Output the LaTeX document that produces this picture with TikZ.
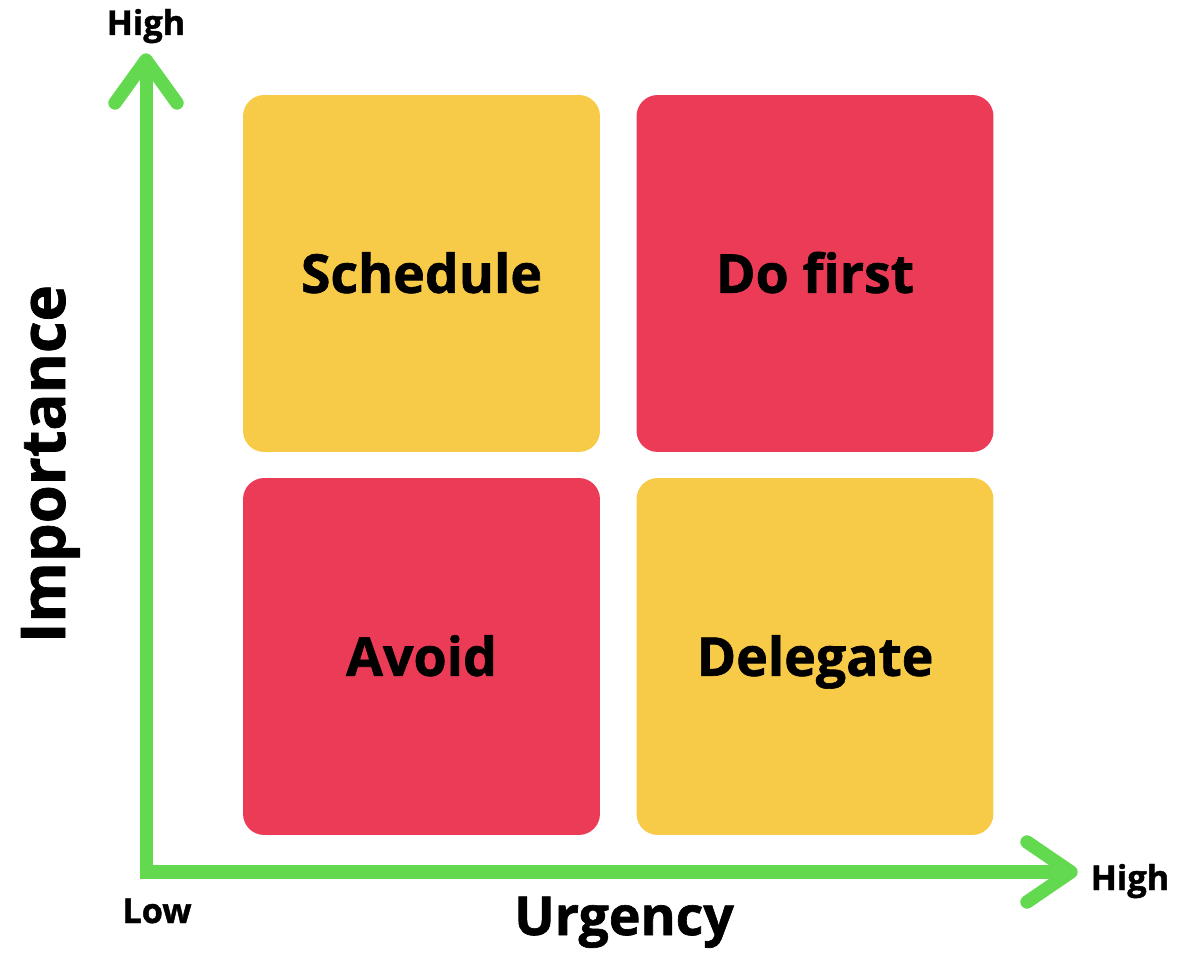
\documentclass[tikz,border=0pt]{standalone}
\usepackage{fontspec}
\setmainfont{Open Sans}[BoldFeatures={FakeBold=1.2}]
\definecolor{quadyellow}{HTML}{F7CA48}
\definecolor{quadred}{HTML}{EC3B56}
\definecolor{axisgreen}{HTML}{62D94F}
\tikzset{
  quad/.style={rounded corners=12pt, minimum width=7.14cm, minimum height=7.14cm,
    inner sep=0pt, text height=22pt, text depth=0pt,
    font=\fontsize{30.5}{36}\selectfont\bfseries},
  axis/.style={draw=axisgreen, line width=7.4pt},
  tip/.style={draw=axisgreen, line width=7.6pt, line cap=round, line join=round},
  small/.style={font=\fontsize{19.5}{23}\selectfont\bfseries, anchor=base},
  big/.style={font=\fontsize{30.5}{36}\selectfont\bfseries, anchor=base}
}
\begin{document}
\begin{tikzpicture}[x=0.02cm, y=-0.02cm]
    \useasboundingbox (0,0) rectangle (1177,955);

    \node[quad, fill=quadyellow] (schedule) at (421.5,273.5) {Schedule};
    \node[quad, fill=quadred] (dofirst) at (815,273.5) {Do first};
    \node[quad, fill=quadred] (avoid) at (421.5,656.5) {Avoid};
    \node[quad, fill=quadyellow] (delegate) at (815,656.5) {Delegate};

    \coordinate (origin) at (146,872);
    \coordinate (ytip) at (146,60);
    \coordinate (xtip) at (1071,872);
    \coordinate (yleft) at (115,103);
    \coordinate (yright) at (177,103);
    \coordinate (xup) at (1027,842);
    \coordinate (xdown) at (1027,902);

    \draw[axis] (ytip) -- (origin) -- (xtip);
    \draw[tip] (yleft) -- (ytip) -- (yright);
    \draw[tip] (xup) -- (xtip) -- (xdown);

    \node[small] (highy) at (146,35) {High};
    \node[small] (highx) at (1130,890) {High};
    \node[small] (low) at (157,923) {Low};
    \node[big] (urgency) at (624,935) {Urgency};
    \node[big, font=\fontsize{35}{42}\selectfont\bfseries, rotate=90] (importance) at (65,464) {Importance};
  \end{tikzpicture}
\end{document}
